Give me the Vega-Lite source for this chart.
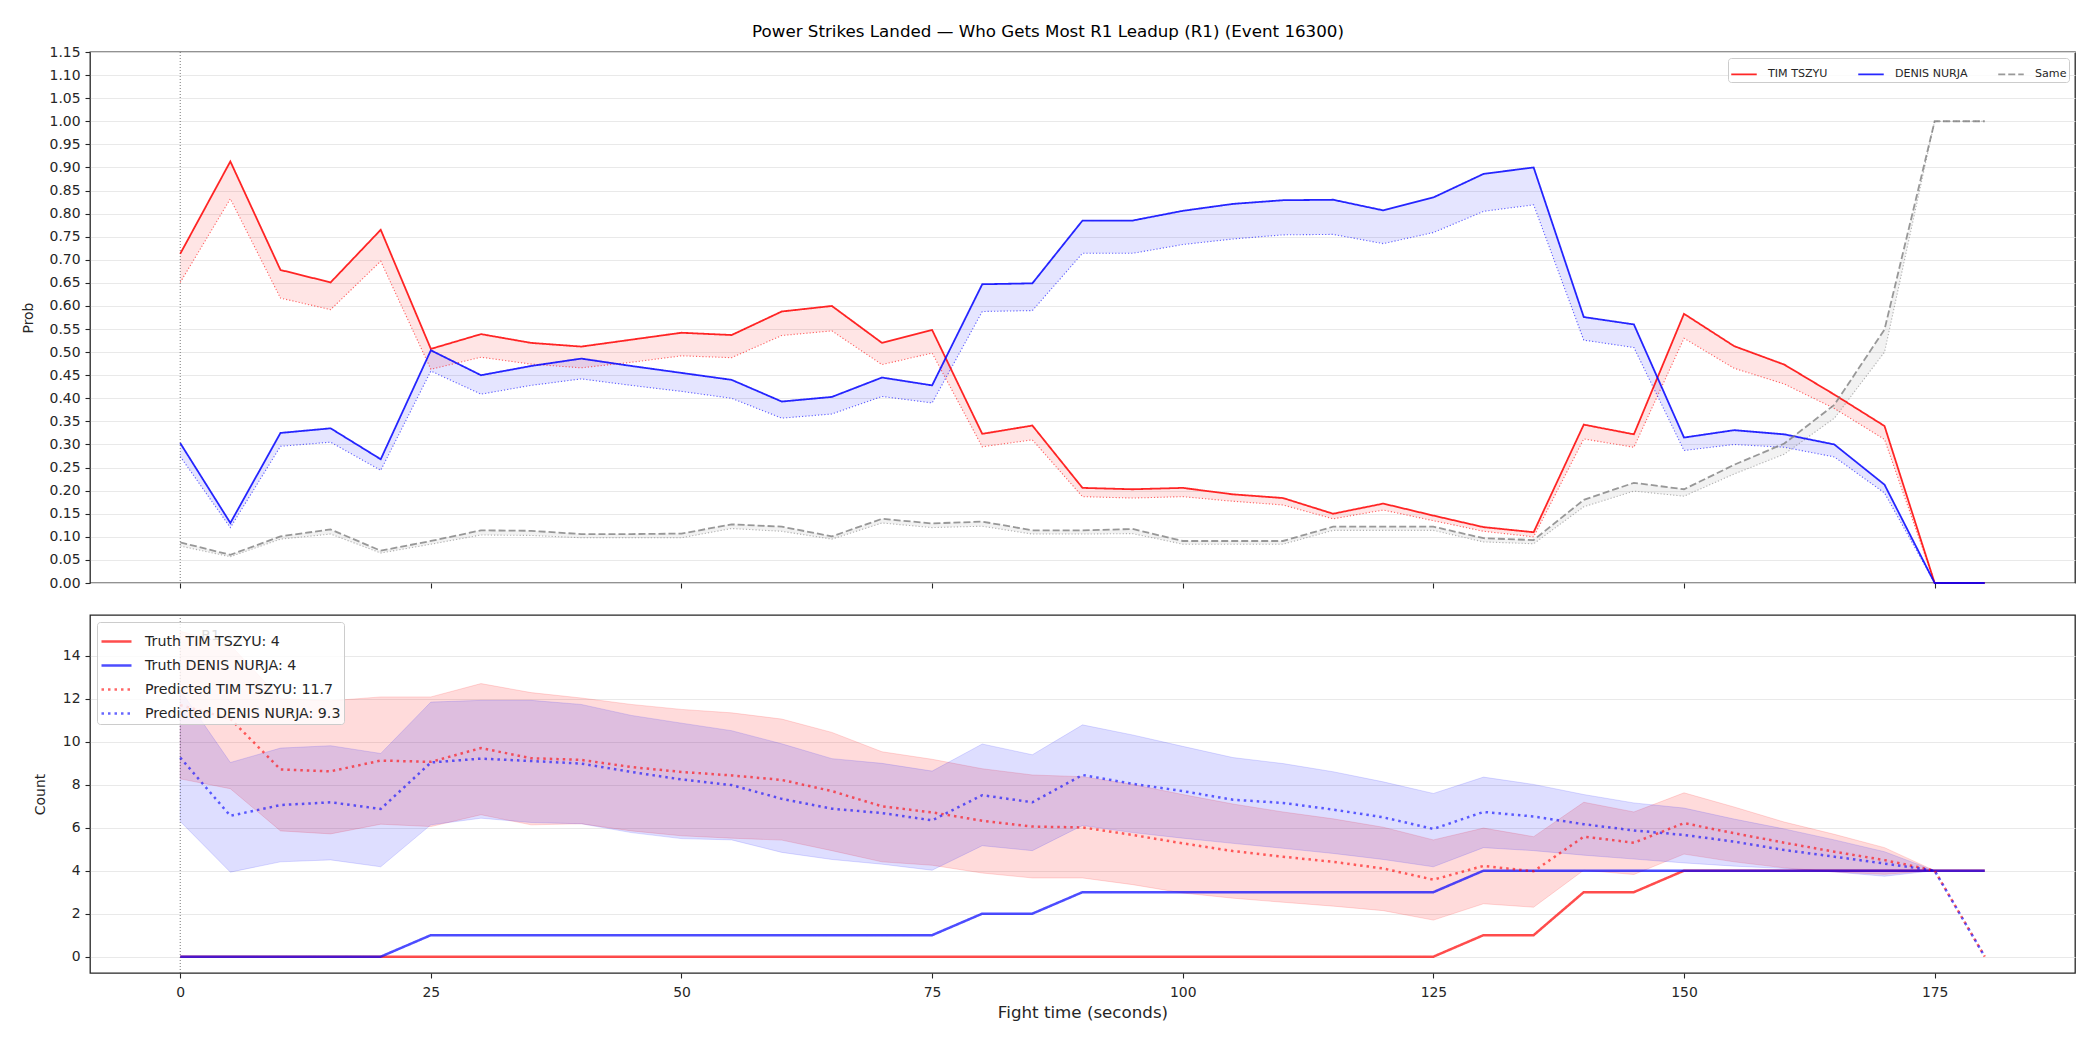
{
  "$schema": "https://vega.github.io/schema/vega-lite/v6.json",
  "background": "white",
  "padding": {"left": 20, "top": 23, "right": 10, "bottom": 6},
  "config": {
    "font": "DejaVu Sans",
    "view": {"stroke": "#262626", "strokeWidth": 1.3},
    "axis": {"domain": false, "tickColor": "#262626", "tickSize": 5, "tickWidth": 1.1, "labelColor": "#262626", "labelFontSize": 13.9, "labelFont": "DejaVu Sans", "titleFont": "DejaVu Sans", "titleFontWeight": "normal", "titleColor": "#262626", "titleFontSize": 13.9, "labelPadding": 5, "gridColor": "#e6e6e6", "gridWidth": 0.9, "labelOverlap": false},
    "legend": {"labelFont": "DejaVu Sans", "labelColor": "#262626"}
  },
  "title": {"text": "Power Strikes Landed — Who Gets Most R1 Leadup (R1) (Event 16300)", "anchor": "middle", "frame": "bounds", "fontSize": 16.7, "fontWeight": "normal", "font": "DejaVu Sans", "color": "#000000", "offset": 4},
  "spacing": 22,
  "resolve": {
    "scale": {"color": "independent", "stroke": "independent", "strokeDash": "independent", "fill": "independent"},
    "legend": {"color": "independent", "stroke": "independent", "strokeDash": "independent", "fill": "independent"}
  },
  "datasets": {
    "rounds": [{"t": 0, "r": "R1"}],
    "extragrid": [{"g": 5}, {"g": 15}],
    "top": [
      {"t":0,"s":"TIM TSZYU","v":0.713,"p":0.651},{"t":5,"s":"TIM TSZYU","v":0.913,"p":0.832},{"t":10,"s":"TIM TSZYU","v":0.678,"p":0.617},{"t":15,"s":"TIM TSZYU","v":0.651,"p":0.592},{"t":20,"s":"TIM TSZYU","v":0.765,"p":0.697},{"t":25,"s":"TIM TSZYU","v":0.507,"p":0.463},{"t":30,"s":"TIM TSZYU","v":0.539,"p":0.489},{"t":35,"s":"TIM TSZYU","v":0.520,"p":0.474},{"t":40,"s":"TIM TSZYU","v":0.512,"p":0.466},{"t":45,"s":"TIM TSZYU","v":0.527,"p":0.478},{"t":50,"s":"TIM TSZYU","v":0.542,"p":0.492},{"t":55,"s":"TIM TSZYU","v":0.537,"p":0.488},{"t":60,"s":"TIM TSZYU","v":0.588,"p":0.536},{"t":65,"s":"TIM TSZYU","v":0.600,"p":0.546},{"t":70,"s":"TIM TSZYU","v":0.520,"p":0.473},{"t":75,"s":"TIM TSZYU","v":0.548,"p":0.498},{"t":80,"s":"TIM TSZYU","v":0.323,"p":0.295},{"t":85,"s":"TIM TSZYU","v":0.341,"p":0.310},{"t":90,"s":"TIM TSZYU","v":0.206,"p":0.187},{"t":95,"s":"TIM TSZYU","v":0.203,"p":0.184},{"t":100,"s":"TIM TSZYU","v":0.206,"p":0.187},{"t":105,"s":"TIM TSZYU","v":0.192,"p":0.177},{"t":110,"s":"TIM TSZYU","v":0.184,"p":0.169},{"t":115,"s":"TIM TSZYU","v":0.150,"p":0.139},{"t":120,"s":"TIM TSZYU","v":0.172,"p":0.158},{"t":125,"s":"TIM TSZYU","v":0.146,"p":0.135},{"t":130,"s":"TIM TSZYU","v":0.121,"p":0.112},{"t":135,"s":"TIM TSZYU","v":0.110,"p":0.100},{"t":140,"s":"TIM TSZYU","v":0.343,"p":0.312},{"t":145,"s":"TIM TSZYU","v":0.322,"p":0.294},{"t":150,"s":"TIM TSZYU","v":0.583,"p":0.530},{"t":155,"s":"TIM TSZYU","v":0.513,"p":0.465},{"t":160,"s":"TIM TSZYU","v":0.473,"p":0.431},{"t":165,"s":"TIM TSZYU","v":0.408,"p":0.378},{"t":170,"s":"TIM TSZYU","v":0.340,"p":0.311},{"t":175,"s":"TIM TSZYU","v":0,"p":0},{"t":180,"s":"TIM TSZYU","v":0,"p":0},
      {"t":0,"s":"DENIS NURJA","v":0.303,"p":0.274},{"t":5,"s":"DENIS NURJA","v":0.130,"p":0.120},{"t":10,"s":"DENIS NURJA","v":0.325,"p":0.296},{"t":15,"s":"DENIS NURJA","v":0.335,"p":0.305},{"t":20,"s":"DENIS NURJA","v":0.268,"p":0.244},{"t":25,"s":"DENIS NURJA","v":0.504,"p":0.459},{"t":30,"s":"DENIS NURJA","v":0.450,"p":0.409},{"t":35,"s":"DENIS NURJA","v":0.470,"p":0.428},{"t":40,"s":"DENIS NURJA","v":0.486,"p":0.442},{"t":45,"s":"DENIS NURJA","v":0.470,"p":0.428},{"t":50,"s":"DENIS NURJA","v":0.455,"p":0.415},{"t":55,"s":"DENIS NURJA","v":0.440,"p":0.400},{"t":60,"s":"DENIS NURJA","v":0.393,"p":0.357},{"t":65,"s":"DENIS NURJA","v":0.403,"p":0.366},{"t":70,"s":"DENIS NURJA","v":0.445,"p":0.404},{"t":75,"s":"DENIS NURJA","v":0.428,"p":0.390},{"t":80,"s":"DENIS NURJA","v":0.647,"p":0.588},{"t":85,"s":"DENIS NURJA","v":0.649,"p":0.590},{"t":90,"s":"DENIS NURJA","v":0.785,"p":0.714},{"t":95,"s":"DENIS NURJA","v":0.785,"p":0.714},{"t":100,"s":"DENIS NURJA","v":0.806,"p":0.733},{"t":105,"s":"DENIS NURJA","v":0.821,"p":0.745},{"t":110,"s":"DENIS NURJA","v":0.829,"p":0.754},{"t":115,"s":"DENIS NURJA","v":0.830,"p":0.755},{"t":120,"s":"DENIS NURJA","v":0.807,"p":0.735},{"t":125,"s":"DENIS NURJA","v":0.835,"p":0.759},{"t":130,"s":"DENIS NURJA","v":0.886,"p":0.805},{"t":135,"s":"DENIS NURJA","v":0.900,"p":0.819},{"t":140,"s":"DENIS NURJA","v":0.576,"p":0.526},{"t":145,"s":"DENIS NURJA","v":0.560,"p":0.510},{"t":150,"s":"DENIS NURJA","v":0.315,"p":0.287},{"t":155,"s":"DENIS NURJA","v":0.331,"p":0.300},{"t":160,"s":"DENIS NURJA","v":0.322,"p":0.294},{"t":165,"s":"DENIS NURJA","v":0.300,"p":0.273},{"t":170,"s":"DENIS NURJA","v":0.213,"p":0.195},{"t":175,"s":"DENIS NURJA","v":0,"p":0},{"t":180,"s":"DENIS NURJA","v":0,"p":0},
      {"t":0,"s":"Same","v":0.088,"p":0.080},{"t":5,"s":"Same","v":0.061,"p":0.057},{"t":10,"s":"Same","v":0.101,"p":0.095},{"t":15,"s":"Same","v":0.116,"p":0.106},{"t":20,"s":"Same","v":0.070,"p":0.065},{"t":25,"s":"Same","v":0.091,"p":0.084},{"t":30,"s":"Same","v":0.114,"p":0.104},{"t":35,"s":"Same","v":0.113,"p":0.103},{"t":40,"s":"Same","v":0.106,"p":0.098},{"t":45,"s":"Same","v":0.106,"p":0.098},{"t":50,"s":"Same","v":0.107,"p":0.098},{"t":55,"s":"Same","v":0.127,"p":0.118},{"t":60,"s":"Same","v":0.122,"p":0.112},{"t":65,"s":"Same","v":0.101,"p":0.095},{"t":70,"s":"Same","v":0.139,"p":0.130},{"t":75,"s":"Same","v":0.129,"p":0.120},{"t":80,"s":"Same","v":0.133,"p":0.123},{"t":85,"s":"Same","v":0.114,"p":0.106},{"t":90,"s":"Same","v":0.114,"p":0.106},{"t":95,"s":"Same","v":0.117,"p":0.107},{"t":100,"s":"Same","v":0.091,"p":0.084},{"t":105,"s":"Same","v":0.091,"p":0.084},{"t":110,"s":"Same","v":0.091,"p":0.084},{"t":115,"s":"Same","v":0.122,"p":0.114},{"t":120,"s":"Same","v":0.122,"p":0.114},{"t":125,"s":"Same","v":0.122,"p":0.114},{"t":130,"s":"Same","v":0.097,"p":0.089},{"t":135,"s":"Same","v":0.093,"p":0.085},{"t":140,"s":"Same","v":0.180,"p":0.165},{"t":145,"s":"Same","v":0.217,"p":0.199},{"t":150,"s":"Same","v":0.203,"p":0.188},{"t":155,"s":"Same","v":0.256,"p":0.236},{"t":160,"s":"Same","v":0.302,"p":0.279},{"t":165,"s":"Same","v":0.386,"p":0.357},{"t":170,"s":"Same","v":0.549,"p":0.500},{"t":175,"s":"Same","v":1.0,"p":1.0},{"t":180,"s":"Same","v":1.0,"p":1.0}
    ],
    "cnt": [
      {"t":0,"k":"Truth TIM TSZYU: 4","v":0},{"t":5,"k":"Truth TIM TSZYU: 4","v":0},{"t":10,"k":"Truth TIM TSZYU: 4","v":0},{"t":15,"k":"Truth TIM TSZYU: 4","v":0},{"t":20,"k":"Truth TIM TSZYU: 4","v":0},{"t":25,"k":"Truth TIM TSZYU: 4","v":0},{"t":30,"k":"Truth TIM TSZYU: 4","v":0},{"t":35,"k":"Truth TIM TSZYU: 4","v":0},{"t":40,"k":"Truth TIM TSZYU: 4","v":0},{"t":45,"k":"Truth TIM TSZYU: 4","v":0},{"t":50,"k":"Truth TIM TSZYU: 4","v":0},{"t":55,"k":"Truth TIM TSZYU: 4","v":0},{"t":60,"k":"Truth TIM TSZYU: 4","v":0},{"t":65,"k":"Truth TIM TSZYU: 4","v":0},{"t":70,"k":"Truth TIM TSZYU: 4","v":0},{"t":75,"k":"Truth TIM TSZYU: 4","v":0},{"t":80,"k":"Truth TIM TSZYU: 4","v":0},{"t":85,"k":"Truth TIM TSZYU: 4","v":0},{"t":90,"k":"Truth TIM TSZYU: 4","v":0},{"t":95,"k":"Truth TIM TSZYU: 4","v":0},{"t":100,"k":"Truth TIM TSZYU: 4","v":0},{"t":105,"k":"Truth TIM TSZYU: 4","v":0},{"t":110,"k":"Truth TIM TSZYU: 4","v":0},{"t":115,"k":"Truth TIM TSZYU: 4","v":0},{"t":120,"k":"Truth TIM TSZYU: 4","v":0},{"t":125,"k":"Truth TIM TSZYU: 4","v":0},{"t":130,"k":"Truth TIM TSZYU: 4","v":1},{"t":135,"k":"Truth TIM TSZYU: 4","v":1},{"t":140,"k":"Truth TIM TSZYU: 4","v":3},{"t":145,"k":"Truth TIM TSZYU: 4","v":3},{"t":150,"k":"Truth TIM TSZYU: 4","v":4},{"t":155,"k":"Truth TIM TSZYU: 4","v":4},{"t":160,"k":"Truth TIM TSZYU: 4","v":4},{"t":165,"k":"Truth TIM TSZYU: 4","v":4},{"t":170,"k":"Truth TIM TSZYU: 4","v":4},{"t":175,"k":"Truth TIM TSZYU: 4","v":4},{"t":180,"k":"Truth TIM TSZYU: 4","v":4},
      {"t":0,"k":"Truth DENIS NURJA: 4","v":0},{"t":5,"k":"Truth DENIS NURJA: 4","v":0},{"t":10,"k":"Truth DENIS NURJA: 4","v":0},{"t":15,"k":"Truth DENIS NURJA: 4","v":0},{"t":20,"k":"Truth DENIS NURJA: 4","v":0},{"t":25,"k":"Truth DENIS NURJA: 4","v":1},{"t":30,"k":"Truth DENIS NURJA: 4","v":1},{"t":35,"k":"Truth DENIS NURJA: 4","v":1},{"t":40,"k":"Truth DENIS NURJA: 4","v":1},{"t":45,"k":"Truth DENIS NURJA: 4","v":1},{"t":50,"k":"Truth DENIS NURJA: 4","v":1},{"t":55,"k":"Truth DENIS NURJA: 4","v":1},{"t":60,"k":"Truth DENIS NURJA: 4","v":1},{"t":65,"k":"Truth DENIS NURJA: 4","v":1},{"t":70,"k":"Truth DENIS NURJA: 4","v":1},{"t":75,"k":"Truth DENIS NURJA: 4","v":1},{"t":80,"k":"Truth DENIS NURJA: 4","v":2},{"t":85,"k":"Truth DENIS NURJA: 4","v":2},{"t":90,"k":"Truth DENIS NURJA: 4","v":3},{"t":95,"k":"Truth DENIS NURJA: 4","v":3},{"t":100,"k":"Truth DENIS NURJA: 4","v":3},{"t":105,"k":"Truth DENIS NURJA: 4","v":3},{"t":110,"k":"Truth DENIS NURJA: 4","v":3},{"t":115,"k":"Truth DENIS NURJA: 4","v":3},{"t":120,"k":"Truth DENIS NURJA: 4","v":3},{"t":125,"k":"Truth DENIS NURJA: 4","v":3},{"t":130,"k":"Truth DENIS NURJA: 4","v":4},{"t":135,"k":"Truth DENIS NURJA: 4","v":4},{"t":140,"k":"Truth DENIS NURJA: 4","v":4},{"t":145,"k":"Truth DENIS NURJA: 4","v":4},{"t":150,"k":"Truth DENIS NURJA: 4","v":4},{"t":155,"k":"Truth DENIS NURJA: 4","v":4},{"t":160,"k":"Truth DENIS NURJA: 4","v":4},{"t":165,"k":"Truth DENIS NURJA: 4","v":4},{"t":170,"k":"Truth DENIS NURJA: 4","v":4},{"t":175,"k":"Truth DENIS NURJA: 4","v":4},{"t":180,"k":"Truth DENIS NURJA: 4","v":4},
      {"t":0,"k":"Predicted TIM TSZYU: 11.7","v":11.7},{"t":5,"k":"Predicted TIM TSZYU: 11.7","v":11.06},{"t":10,"k":"Predicted TIM TSZYU: 11.7","v":8.71},{"t":15,"k":"Predicted TIM TSZYU: 11.7","v":8.62},{"t":20,"k":"Predicted TIM TSZYU: 11.7","v":9.12},{"t":25,"k":"Predicted TIM TSZYU: 11.7","v":9.06},{"t":30,"k":"Predicted TIM TSZYU: 11.7","v":9.70},{"t":35,"k":"Predicted TIM TSZYU: 11.7","v":9.23},{"t":40,"k":"Predicted TIM TSZYU: 11.7","v":9.15},{"t":45,"k":"Predicted TIM TSZYU: 11.7","v":8.82},{"t":50,"k":"Predicted TIM TSZYU: 11.7","v":8.59},{"t":55,"k":"Predicted TIM TSZYU: 11.7","v":8.43},{"t":60,"k":"Predicted TIM TSZYU: 11.7","v":8.22},{"t":65,"k":"Predicted TIM TSZYU: 11.7","v":7.70},{"t":70,"k":"Predicted TIM TSZYU: 11.7","v":6.99},{"t":75,"k":"Predicted TIM TSZYU: 11.7","v":6.71},{"t":80,"k":"Predicted TIM TSZYU: 11.7","v":6.32},{"t":85,"k":"Predicted TIM TSZYU: 11.7","v":6.05},{"t":90,"k":"Predicted TIM TSZYU: 11.7","v":6.01},{"t":95,"k":"Predicted TIM TSZYU: 11.7","v":5.66},{"t":100,"k":"Predicted TIM TSZYU: 11.7","v":5.27},{"t":105,"k":"Predicted TIM TSZYU: 11.7","v":4.91},{"t":110,"k":"Predicted TIM TSZYU: 11.7","v":4.65},{"t":115,"k":"Predicted TIM TSZYU: 11.7","v":4.41},{"t":120,"k":"Predicted TIM TSZYU: 11.7","v":4.10},{"t":125,"k":"Predicted TIM TSZYU: 11.7","v":3.58},{"t":130,"k":"Predicted TIM TSZYU: 11.7","v":4.22},{"t":135,"k":"Predicted TIM TSZYU: 11.7","v":3.97},{"t":140,"k":"Predicted TIM TSZYU: 11.7","v":5.58},{"t":145,"k":"Predicted TIM TSZYU: 11.7","v":5.30},{"t":150,"k":"Predicted TIM TSZYU: 11.7","v":6.21},{"t":155,"k":"Predicted TIM TSZYU: 11.7","v":5.74},{"t":160,"k":"Predicted TIM TSZYU: 11.7","v":5.30},{"t":165,"k":"Predicted TIM TSZYU: 11.7","v":4.88},{"t":170,"k":"Predicted TIM TSZYU: 11.7","v":4.49},{"t":175,"k":"Predicted TIM TSZYU: 11.7","v":4.0},{"t":180,"k":"Predicted TIM TSZYU: 11.7","v":0},
      {"t":0,"k":"Predicted DENIS NURJA: 9.3","v":9.26},{"t":5,"k":"Predicted DENIS NURJA: 9.3","v":6.55},{"t":10,"k":"Predicted DENIS NURJA: 9.3","v":7.05},{"t":15,"k":"Predicted DENIS NURJA: 9.3","v":7.18},{"t":20,"k":"Predicted DENIS NURJA: 9.3","v":6.87},{"t":25,"k":"Predicted DENIS NURJA: 9.3","v":9.03},{"t":30,"k":"Predicted DENIS NURJA: 9.3","v":9.21},{"t":35,"k":"Predicted DENIS NURJA: 9.3","v":9.10},{"t":40,"k":"Predicted DENIS NURJA: 9.3","v":8.98},{"t":45,"k":"Predicted DENIS NURJA: 9.3","v":8.59},{"t":50,"k":"Predicted DENIS NURJA: 9.3","v":8.24},{"t":55,"k":"Predicted DENIS NURJA: 9.3","v":7.98},{"t":60,"k":"Predicted DENIS NURJA: 9.3","v":7.34},{"t":65,"k":"Predicted DENIS NURJA: 9.3","v":6.88},{"t":70,"k":"Predicted DENIS NURJA: 9.3","v":6.68},{"t":75,"k":"Predicted DENIS NURJA: 9.3","v":6.34},{"t":80,"k":"Predicted DENIS NURJA: 9.3","v":7.51},{"t":85,"k":"Predicted DENIS NURJA: 9.3","v":7.18},{"t":90,"k":"Predicted DENIS NURJA: 9.3","v":8.45},{"t":95,"k":"Predicted DENIS NURJA: 9.3","v":8.04},{"t":100,"k":"Predicted DENIS NURJA: 9.3","v":7.70},{"t":105,"k":"Predicted DENIS NURJA: 9.3","v":7.30},{"t":110,"k":"Predicted DENIS NURJA: 9.3","v":7.15},{"t":115,"k":"Predicted DENIS NURJA: 9.3","v":6.84},{"t":120,"k":"Predicted DENIS NURJA: 9.3","v":6.48},{"t":125,"k":"Predicted DENIS NURJA: 9.3","v":5.94},{"t":130,"k":"Predicted DENIS NURJA: 9.3","v":6.73},{"t":135,"k":"Predicted DENIS NURJA: 9.3","v":6.52},{"t":140,"k":"Predicted DENIS NURJA: 9.3","v":6.16},{"t":145,"k":"Predicted DENIS NURJA: 9.3","v":5.87},{"t":150,"k":"Predicted DENIS NURJA: 9.3","v":5.66},{"t":155,"k":"Predicted DENIS NURJA: 9.3","v":5.35},{"t":160,"k":"Predicted DENIS NURJA: 9.3","v":4.96},{"t":165,"k":"Predicted DENIS NURJA: 9.3","v":4.65},{"t":170,"k":"Predicted DENIS NURJA: 9.3","v":4.33},{"t":175,"k":"Predicted DENIS NURJA: 9.3","v":4.0},{"t":180,"k":"Predicted DENIS NURJA: 9.3","v":0}
    ],
    "band": [
      {"t":0,"f":"TIM TSZYU","lo":8.27,"hi":15.14},{"t":5,"f":"TIM TSZYU","lo":7.81,"hi":14.5},{"t":10,"f":"TIM TSZYU","lo":5.85,"hi":12.0},{"t":15,"f":"TIM TSZYU","lo":5.71,"hi":11.9},{"t":20,"f":"TIM TSZYU","lo":6.16,"hi":12.08},{"t":25,"f":"TIM TSZYU","lo":6.05,"hi":12.08},{"t":30,"f":"TIM TSZYU","lo":6.60,"hi":12.70},{"t":35,"f":"TIM TSZYU","lo":6.13,"hi":12.28},{"t":40,"f":"TIM TSZYU","lo":6.18,"hi":12.03},{"t":45,"f":"TIM TSZYU","lo":5.85,"hi":11.73},{"t":50,"f":"TIM TSZYU","lo":5.62,"hi":11.50},{"t":55,"f":"TIM TSZYU","lo":5.51,"hi":11.34},{"t":60,"f":"TIM TSZYU","lo":5.42,"hi":11.05},{"t":65,"f":"TIM TSZYU","lo":4.93,"hi":10.43},{"t":70,"f":"TIM TSZYU","lo":4.41,"hi":9.53},{"t":75,"f":"TIM TSZYU","lo":4.25,"hi":9.18},{"t":80,"f":"TIM TSZYU","lo":3.89,"hi":8.74},{"t":85,"f":"TIM TSZYU","lo":3.66,"hi":8.45},{"t":90,"f":"TIM TSZYU","lo":3.66,"hi":8.37},{"t":95,"f":"TIM TSZYU","lo":3.35,"hi":8.01},{"t":100,"f":"TIM TSZYU","lo":2.96,"hi":7.54},{"t":105,"f":"TIM TSZYU","lo":2.72,"hi":7.10},{"t":110,"f":"TIM TSZYU","lo":2.53,"hi":6.73},{"t":115,"f":"TIM TSZYU","lo":2.35,"hi":6.41},{"t":120,"f":"TIM TSZYU","lo":2.14,"hi":6.02},{"t":125,"f":"TIM TSZYU","lo":1.70,"hi":5.43},{"t":130,"f":"TIM TSZYU","lo":2.46,"hi":5.98},{"t":135,"f":"TIM TSZYU","lo":2.30,"hi":5.58},{"t":140,"f":"TIM TSZYU","lo":4.02,"hi":7.18},{"t":145,"f":"TIM TSZYU","lo":3.82,"hi":6.73},{"t":150,"f":"TIM TSZYU","lo":4.77,"hi":7.62},{"t":155,"f":"TIM TSZYU","lo":4.41,"hi":6.96},{"t":160,"f":"TIM TSZYU","lo":4.13,"hi":6.26},{"t":165,"f":"TIM TSZYU","lo":3.94,"hi":5.69},{"t":170,"f":"TIM TSZYU","lo":3.83,"hi":5.07},{"t":175,"f":"TIM TSZYU","lo":4.0,"hi":4.0},
      {"t":0,"f":"DENIS NURJA","lo":6.29,"hi":12.4},{"t":5,"f":"DENIS NURJA","lo":3.93,"hi":9.03},{"t":10,"f":"DENIS NURJA","lo":4.41,"hi":9.70},{"t":15,"f":"DENIS NURJA","lo":4.50,"hi":9.81},{"t":20,"f":"DENIS NURJA","lo":4.18,"hi":9.45},{"t":25,"f":"DENIS NURJA","lo":6.13,"hi":11.84},{"t":30,"f":"DENIS NURJA","lo":6.44,"hi":11.92},{"t":35,"f":"DENIS NURJA","lo":6.24,"hi":11.92},{"t":40,"f":"DENIS NURJA","lo":6.18,"hi":11.73},{"t":45,"f":"DENIS NURJA","lo":5.77,"hi":11.22},{"t":50,"f":"DENIS NURJA","lo":5.49,"hi":10.86},{"t":55,"f":"DENIS NURJA","lo":5.43,"hi":10.51},{"t":60,"f":"DENIS NURJA","lo":4.85,"hi":9.90},{"t":65,"f":"DENIS NURJA","lo":4.52,"hi":9.21},{"t":70,"f":"DENIS NURJA","lo":4.30,"hi":8.99},{"t":75,"f":"DENIS NURJA","lo":4.02,"hi":8.63},{"t":80,"f":"DENIS NURJA","lo":5.16,"hi":9.89},{"t":85,"f":"DENIS NURJA","lo":4.93,"hi":9.39},{"t":90,"f":"DENIS NURJA","lo":6.10,"hi":10.78},{"t":95,"f":"DENIS NURJA","lo":5.77,"hi":10.31},{"t":100,"f":"DENIS NURJA","lo":5.51,"hi":9.78},{"t":105,"f":"DENIS NURJA","lo":5.27,"hi":9.26},{"t":110,"f":"DENIS NURJA","lo":5.04,"hi":8.98},{"t":115,"f":"DENIS NURJA","lo":4.80,"hi":8.60},{"t":120,"f":"DENIS NURJA","lo":4.52,"hi":8.13},{"t":125,"f":"DENIS NURJA","lo":4.18,"hi":7.59},{"t":130,"f":"DENIS NURJA","lo":5.07,"hi":8.35},{"t":135,"f":"DENIS NURJA","lo":4.93,"hi":8.01},{"t":140,"f":"DENIS NURJA","lo":4.72,"hi":7.54},{"t":145,"f":"DENIS NURJA","lo":4.54,"hi":7.15},{"t":150,"f":"DENIS NURJA","lo":4.36,"hi":6.91},{"t":155,"f":"DENIS NURJA","lo":4.21,"hi":6.40},{"t":160,"f":"DENIS NURJA","lo":4.10,"hi":5.94},{"t":165,"f":"DENIS NURJA","lo":3.94,"hi":5.43},{"t":170,"f":"DENIS NURJA","lo":3.74,"hi":4.88},{"t":175,"f":"DENIS NURJA","lo":4.0,"hi":4.0}
    ]
  },
  "vconcat": [
    {
      "width": 1985,
      "height": 531,
      "encoding": {
        "x": {"field": "t", "type": "quantitative", "scale": {"domain": [-9, 189], "nice": false, "zero": false}, "axis": {"values": [0, 25, 50, 75, 100, 125, 150, 175], "labels": false, "title": null, "grid": false}},
        "y": {"field": "v", "type": "quantitative", "scale": {"domain": [0, 1.15], "nice": false, "zero": false}, "axis": {"values": [0,0.05,0.1,0.15,0.2,0.25,0.3,0.35,0.4,0.45,0.5,0.55,0.6,0.65,0.7,0.75,0.8,0.85,0.9,0.95,1.0,1.05,1.1,1.15], "format": ".2f", "title": "Prob", "grid": true, "titlePadding": 14}}
      },
      "layer": [
        {"data": {"name": "top"}, "transform": [{"filter": "datum.s === 'TIM TSZYU'"}], "mark": {"type": "area", "fill": "rgba(255,0,0,0.1)"}, "encoding": {"y2": {"field": "p"}}},
        {"data": {"name": "top"}, "transform": [{"filter": "datum.s === 'DENIS NURJA'"}], "mark": {"type": "area", "fill": "rgba(0,0,255,0.1)"}, "encoding": {"y2": {"field": "p"}}},
        {"data": {"name": "top"}, "transform": [{"filter": "datum.s === 'Same'"}], "mark": {"type": "area", "fill": "rgba(128,128,128,0.1)"}, "encoding": {"y2": {"field": "p"}}},
        {"data": {"name": "top"}, "transform": [{"filter": "datum.s === 'TIM TSZYU'"}], "mark": {"type": "line", "stroke": "rgba(255,0,0,0.6)", "strokeWidth": 1.1, "strokeDash": [1.2, 2]}, "encoding": {"y": {"field": "p", "type": "quantitative", "axis": {"values": [0,0.05,0.1,0.15,0.2,0.25,0.3,0.35,0.4,0.45,0.5,0.55,0.6,0.65,0.7,0.75,0.8,0.85,0.9,0.95,1.0,1.05,1.1,1.15], "format": ".2f", "title": "Prob", "grid": true, "titlePadding": 14}}}},
        {"data": {"name": "top"}, "transform": [{"filter": "datum.s === 'DENIS NURJA'"}], "mark": {"type": "line", "stroke": "rgba(0,0,255,0.6)", "strokeWidth": 1.1, "strokeDash": [1.2, 2]}, "encoding": {"y": {"field": "p", "type": "quantitative", "axis": {"values": [0,0.05,0.1,0.15,0.2,0.25,0.3,0.35,0.4,0.45,0.5,0.55,0.6,0.65,0.7,0.75,0.8,0.85,0.9,0.95,1.0,1.05,1.1,1.15], "format": ".2f", "title": "Prob", "grid": true, "titlePadding": 14}}}},
        {"data": {"name": "top"}, "transform": [{"filter": "datum.s === 'Same'"}], "mark": {"type": "line", "stroke": "rgba(128,128,128,0.6)", "strokeWidth": 1.1, "strokeDash": [1.2, 2]}, "encoding": {"y": {"field": "p", "type": "quantitative", "axis": {"values": [0,0.05,0.1,0.15,0.2,0.25,0.3,0.35,0.4,0.45,0.5,0.55,0.6,0.65,0.7,0.75,0.8,0.85,0.9,0.95,1.0,1.05,1.1,1.15], "format": ".2f", "title": "Prob", "grid": true, "titlePadding": 14}}}},
        {
          "data": {"name": "rounds"},
          "mark": {"type": "rule", "color": "#555555", "strokeWidth": 1, "strokeDash": [1, 2], "opacity": 0.8},
          "encoding": {"y": null}
        },
        {
          "data": {"name": "rounds"},
          "mark": {"type": "text", "align": "left", "baseline": "middle", "dx": 21, "fontSize": 14, "color": "#555555"},
          "encoding": {"y": {"datum": 1.1, "type": "quantitative", "axis": {"values": [0,0.05,0.1,0.15,0.2,0.25,0.3,0.35,0.4,0.45,0.5,0.55,0.6,0.65,0.7,0.75,0.8,0.85,0.9,0.95,1.0,1.05,1.1,1.15], "format": ".2f", "title": "Prob", "grid": true, "titlePadding": 14}}, "text": {"field": "r"}}
        },
        {
          "data": {"name": "top"},
          "mark": {"type": "line", "strokeWidth": 1.8},
          "encoding": {
            "color": {"field": "s", "type": "nominal", "scale": {"domain": ["TIM TSZYU", "DENIS NURJA", "Same"], "range": ["rgba(255,0,0,0.85)", "rgba(0,0,255,0.85)", "rgba(128,128,128,0.8)"]},
              "legend": {"orient": "top-right", "direction": "horizontal", "title": null, "symbolType": "stroke", "symbolSize": 650, "symbolStrokeWidth": 1.8, "labelFontSize": 11.1, "labelOffset": 10, "columnPadding": 26, "fillColor": "rgba(255,255,255,0.8)", "strokeColor": "#cccccc", "padding": 2, "cornerRadius": 3, "offset": 6}},
            "strokeDash": {"field": "s", "type": "nominal", "scale": {"domain": ["TIM TSZYU", "DENIS NURJA", "Same"], "range": [[1, 0], [1, 0], [7, 3]]},
              "legend": {"orient": "top-right", "direction": "horizontal", "title": null, "symbolType": "stroke", "symbolSize": 650, "symbolStrokeWidth": 1.8, "labelFontSize": 11.1, "labelOffset": 10, "columnPadding": 26, "fillColor": "rgba(255,255,255,0.8)", "strokeColor": "#cccccc", "padding": 2, "cornerRadius": 3, "offset": 6}}
          }
        }
      ]
    },
    {
      "width": 1985,
      "height": 358,
      "encoding": {
        "x": {"field": "t", "type": "quantitative", "scale": {"domain": [-9, 189], "nice": false, "zero": false}, "axis": {"values": [0, 25, 50, 75, 100, 125, 150, 175], "title": "Fight time (seconds)", "titleFontSize": 16.7, "titlePadding": 6, "labelPadding": 7, "grid": false}}
      },
      "layer": [
        {"data": {"name": "band"}, "transform": [{"filter": "datum.f === 'TIM TSZYU'"}], "mark": {"type": "area", "fill": "rgba(255,0,0,0.14)", "stroke": "rgba(255,0,0,0.14)", "strokeWidth": 1},
          "encoding": {"y": {"field": "lo", "type": "quantitative", "scale": {"domain": [-0.76, 15.89], "nice": false, "zero": false}, "axis": {"values": [0, 2, 4, 6, 8, 10, 12, 14], "title": "Count", "grid": true, "titlePadding": 15}}, "y2": {"field": "hi"}}},
        {"data": {"name": "band"}, "transform": [{"filter": "datum.f === 'DENIS NURJA'"}], "mark": {"type": "area", "fill": "rgba(0,0,255,0.13)", "stroke": "rgba(0,0,255,0.13)", "strokeWidth": 1},
          "encoding": {"y": {"field": "lo", "type": "quantitative", "axis": {"values": [0, 2, 4, 6, 8, 10, 12, 14], "title": "Count", "grid": true, "titlePadding": 15}}, "y2": {"field": "hi"}}},
        {
          "data": {"name": "extragrid"},
          "mark": {"type": "rule", "color": "#e6e6e6", "strokeWidth": 0.9},
          "encoding": {"y": {"field": "g", "type": "quantitative", "axis": {"values": [0, 2, 4, 6, 8, 10, 12, 14], "title": "Count", "grid": true, "titlePadding": 15}}}
        },
        {
          "data": {"name": "rounds"},
          "mark": {"type": "rule", "color": "#555555", "strokeWidth": 1, "strokeDash": [1, 2], "opacity": 0.8},
          "encoding": {}
        },
        {
          "data": {"name": "rounds"},
          "mark": {"type": "text", "align": "left", "baseline": "middle", "dx": 21, "fontSize": 14, "color": "#555555"},
          "encoding": {"y": {"datum": 14.9, "type": "quantitative", "axis": {"values": [0, 2, 4, 6, 8, 10, 12, 14], "title": "Count", "grid": true, "titlePadding": 15}}, "text": {"field": "r"}}
        },
        {
          "data": {"name": "cnt"},
          "mark": {"type": "line", "strokeWidth": 2.5},
          "encoding": {
            "y": {"field": "v", "type": "quantitative", "axis": {"values": [0, 2, 4, 6, 8, 10, 12, 14], "title": "Count", "grid": true, "titlePadding": 15}},
            "color": {"field": "k", "type": "nominal", "scale": {"domain": ["Truth TIM TSZYU: 4", "Truth DENIS NURJA: 4", "Predicted TIM TSZYU: 11.7", "Predicted DENIS NURJA: 9.3"], "range": ["rgba(255,0,0,0.7)", "rgba(0,0,255,0.7)", "rgba(255,0,0,0.6)", "rgba(0,0,255,0.6)"]},
              "legend": {"orient": "top-left", "title": null, "symbolType": "stroke", "symbolSize": 900, "symbolStrokeWidth": 2.5, "labelFontSize": 14.2, "labelOffset": 12, "rowPadding": -8, "labelLimit": 400, "fillColor": "rgba(255,255,255,0.8)", "strokeColor": "#cccccc", "padding": 3, "cornerRadius": 3, "offset": 7}},
            "strokeDash": {"field": "k", "type": "nominal", "scale": {"domain": ["Truth TIM TSZYU: 4", "Truth DENIS NURJA: 4", "Predicted TIM TSZYU: 11.7", "Predicted DENIS NURJA: 9.3"], "range": [[1, 0], [1, 0], [2.5, 4], [2.5, 4]]},
              "legend": {"orient": "top-left", "title": null, "symbolType": "stroke", "symbolSize": 900, "symbolStrokeWidth": 2.5, "labelFontSize": 14.2, "labelOffset": 12, "rowPadding": -8, "labelLimit": 400, "fillColor": "rgba(255,255,255,0.8)", "strokeColor": "#cccccc", "padding": 3, "cornerRadius": 3, "offset": 7}}
          }
        }
      ]
    }
  ]
}
